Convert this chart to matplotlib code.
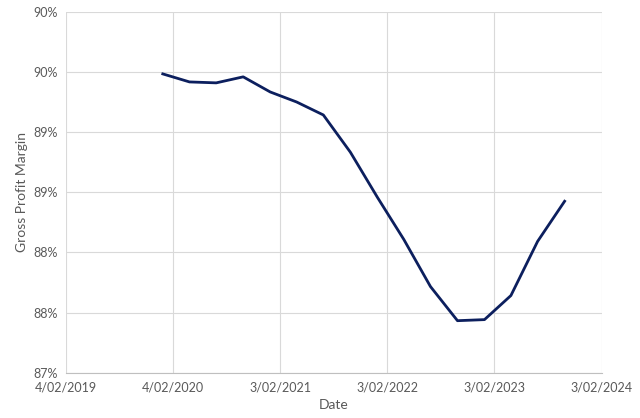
import pandas as pd
import matplotlib.pyplot as plt

plt.rcParams['font.family'] = ['Lato', 'DejaVu Sans']

# Quarterly gross profit margin (%)
dates = pd.to_datetime([
    "2019-12-31", "2020-03-31", "2020-06-30", "2020-09-30",
    "2020-12-31", "2021-03-31", "2021-06-30", "2021-09-30",
    "2021-12-31", "2022-03-31", "2022-06-30", "2022-09-30",
    "2022-12-31", "2023-03-31", "2023-06-30", "2023-09-30",
])
margin = [89.535, 89.475, 89.468, 89.513, 89.40, 89.325, 89.228, 88.95,
          88.613, 88.298, 87.945, 87.69, 87.698, 87.878, 88.283, 88.583]

tick_dates = pd.to_datetime(["2019-02-04", "2020-02-04", "2021-02-03",
                             "2022-02-03", "2023-02-03", "2024-02-03"])
tick_labels = ["4/02/2019", "4/02/2020", "3/02/2021", "3/02/2022", "3/02/2023", "3/02/2024"]
y_ticks = [87.3 + 0.45 * i for i in range(7)]
y_labels = ["87%", "88%", "88%", "89%", "89%", "90%", "90%"]

fig, ax = plt.subplots(figsize=(6.4, 4.18), dpi=100)
fig.subplots_adjust(left=0.103, right=0.94, top=0.972, bottom=0.108)

ax.plot(dates, margin, color="#0c1f5e", linewidth=2)

ax.set_xlim(tick_dates[0], tick_dates[-1])
ax.set_xticks(tick_dates)
ax.set_xticklabels(tick_labels)
ax.set_ylim(y_ticks[0], y_ticks[-1])
ax.set_yticks(y_ticks)
ax.set_yticklabels(y_labels)

ax.grid(True, color="#d9d9d9", linewidth=0.8)
for side in ["top", "right", "left"]:
    ax.spines[side].set_visible(False)
ax.spines["bottom"].set_color("#bfbfbf")
ax.tick_params(length=0, labelsize=9, colors="#595959", pad=6)

ax.set_xlabel("Date", fontsize=10, color="#595959")
ax.set_ylabel("Gross Profit Margin", fontsize=10, color="#595959")

plt.savefig("out.png")
